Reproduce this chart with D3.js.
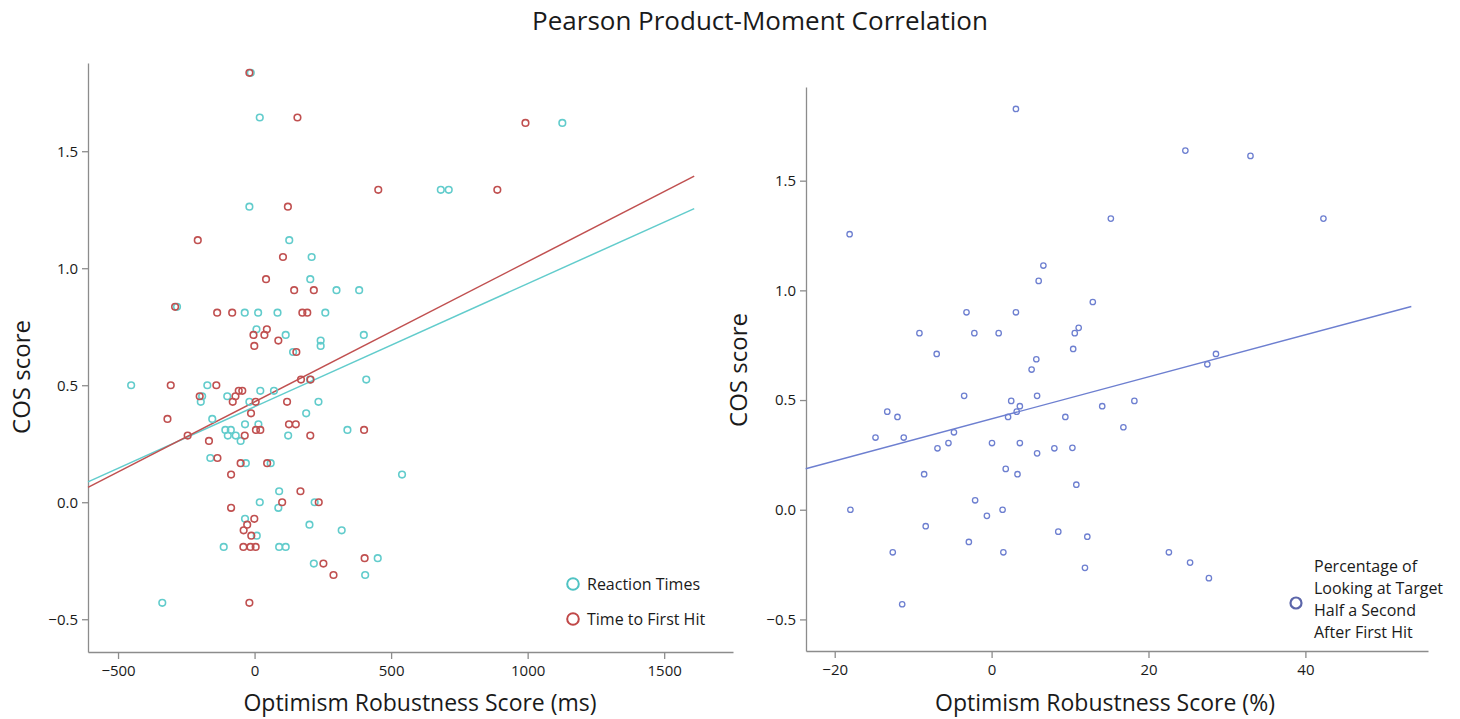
<!DOCTYPE html>
<html lang="en">
<head>
<meta charset="utf-8">
<title>Pearson Product-Moment Correlation</title>
<script src="https://d3js.org/d3.v7.min.js"></script>
<style type="text/css">
  body { margin: 0; background: #ffffff; }
  svg text { font-family: "Open Sans", "Noto Sans", sans-serif; fill: #1a1a1a; }
  .axis path, .axis line { stroke: #8c8c8c; stroke-width: 1.3px; }
  .axis text { font-size: 15px; }
</style>
</head>
<body>
<script type="text/javascript">

// left panel: optimism robustness score (ms) vs COS score
const rtX = [-14, 19, -19, 127, 209, 204, 300, 383, -284, -36, 13, 84, 259, 7, 114, 400, 242, 242, 141,
  -452, -173, 203, 409, -192, -100, 21, 71, -197, -19, 234, 189, -155, -35, 14, -107, -87, 340, -98, -69,
  123, -51, -162, -32, 59, 540, 90, 19, 220, 87, -35, 201, 319, 8, -113, 90, 114, 217, 451, 405, -338,
  1127, 682, 711];
const rtY = [1.835, 1.644, 1.263, 1.12, 1.048, 0.953, 0.906, 0.906, 0.835, 0.81, 0.81, 0.81, 0.81, 0.739,
  0.715, 0.715, 0.691, 0.668, 0.642, 0.5, 0.5, 0.524, 0.524, 0.453, 0.453, 0.476, 0.476, 0.429, 0.429,
  0.429, 0.38, 0.356, 0.333, 0.333, 0.309, 0.309, 0.309, 0.285, 0.285, 0.285, 0.262, 0.189, 0.167, 0.167,
  0.118, 0.047, 0.0, 0.0, -0.024, -0.071, -0.096, -0.12, -0.143, -0.191, -0.191, -0.191, -0.262, -0.239,
  -0.311, -0.43, 1.621, 1.335, 1.335];

const hitX = [-19, 157, 453, 122, -208, 104, 42, 145, 217, -291, -137, -82, 175, 193, 45, -4, 36, -1, 87,
  153, -307, -140, 170, 205, -201, -70, -58, -45, -80, 4, 119, -13, -319, 126, 151, 5, 21, 401, -245, -36,
  204, -167, -136, -51, 46, -86, 168, 101, 235, -86, -1, -27, -40, -12, -41, -15, 4, 252, 403, 289, -19,
  992, 889];
const hitY = [1.835, 1.644, 1.335, 1.263, 1.12, 1.048, 0.953, 0.906, 0.906, 0.835, 0.81, 0.81, 0.81, 0.81,
  0.739, 0.715, 0.715, 0.668, 0.691, 0.642, 0.5, 0.5, 0.524, 0.524, 0.453, 0.453, 0.476, 0.476, 0.429,
  0.429, 0.429, 0.38, 0.356, 0.333, 0.333, 0.309, 0.309, 0.309, 0.285, 0.285, 0.285, 0.262, 0.189, 0.167,
  0.167, 0.118, 0.047, 0.0, 0.0, -0.024, -0.071, -0.096, -0.12, -0.143, -0.191, -0.191, -0.191, -0.262,
  -0.239, -0.311, -0.43, 1.621, 1.335];

// right panel: optimism robustness score (%) vs COS score
const pctX = [3.1, -18.1, 6.6, 6.0, -3.2, 3.1, -9.2, -2.2, 0.9, -7.0, 5.7, 5.1, -3.5, 5.8, 2.5, 3.6, 3.2,
  2.1, -13.3, -12.0, -14.8, -11.2, -4.8, -5.5, 0.05, 3.6, -6.9, 8.0, 5.8, 1.8, -8.6, 3.3, -2.1, -18.0, 1.4,
  -0.6, -8.4, 8.5, -2.9, -12.6, 1.5, -11.4, 24.7, 33.0, 15.2, 42.3, 12.9, 11.1, 10.6, 10.4, 28.6, 27.5,
  14.1, 18.2, 9.4, 16.8, 10.3, 10.8, 12.2, 11.9, 22.6, 25.3, 27.7];
const pctY = [1.827, 1.256, 1.113, 1.043, 0.9, 0.9, 0.805, 0.805, 0.805, 0.71, 0.686, 0.639, 0.519, 0.519,
  0.496, 0.472, 0.447, 0.423, 0.447, 0.423, 0.329, 0.329, 0.353, 0.304, 0.304, 0.304, 0.28, 0.28, 0.257,
  0.186, 0.162, 0.162, 0.043, 0.0, 0.0, -0.028, -0.075, -0.1, -0.147, -0.194, -0.194, -0.431, 1.637, 1.613,
  1.327, 1.327, 0.947, 0.829, 0.805, 0.733, 0.71, 0.663, 0.472, 0.496, 0.423, 0.376, 0.282, 0.114, -0.123,
  -0.265, -0.194, -0.241, -0.312];

// fit lines: [intercept, slope], drawn over fitRange
const rtFit = [0.408, 0.000526];
const hitFit = [0.429, 0.000599];
const msFitRange = [-610, 1610];
const pctFit = [0.414, 0.00958];
const pctFitRange = [-23.7, 53.5];

// tick labels
const msTicks = [-500, 0, 500, 1000, 1500];
const pctTicks = [-20, 0, 20, 40];
const cosTicks = [-0.5, 0.0, 0.5, 1.0, 1.5];

const legendLeft = ["Reaction Times", "Time to First Hit"];
const legendRight = ["Percentage of", "Looking at Target", "Half a Second", "After First Hit"];

const cyan = "#62cccc";
const red = "#c05050";
const blue = "#6d7fd0";

const width = 1460;
const height = 719;
const svg = d3.select("body")
              .append("svg")
              .attr("width", width)
              .attr("height", height);

svg.append("text")
   .attr("x", 760)
   .attr("y", 30)
   .attr("text-anchor", "middle")
   .style("font-size", "26px")
   .text("Pearson Product-Moment Correlation");

// ---------- left panel ----------
const xL = d3.scaleLinear().domain([-610, 1752]).range([88, 733]);
const yL = d3.scaleLinear().domain([-0.64, 1.877]).range([652, 63]);

svg.append("g")
   .attr("class", "axis")
   .attr("transform", "translate(0,652)")
   .call(d3.axisBottom(xL).tickValues(msTicks).tickFormat(d3.format("d")).tickSize(7).tickPadding(6).tickSizeOuter(0));

svg.append("g")
   .attr("class", "axis")
   .attr("transform", "translate(88,0)")
   .call(d3.axisLeft(yL).tickValues(cosTicks).tickFormat(d3.format(".1f")).tickSize(6).tickPadding(4).tickSizeOuter(0));

const lineL = d3.line().x(d => xL(d[0])).y(d => yL(d[1]));

svg.append("path")
   .datum(msFitRange.map(v => [v, rtFit[0] + rtFit[1] * v]))
   .attr("d", lineL)
   .attr("fill", "none")
   .attr("stroke", cyan)
   .attr("stroke-width", 1.5);

svg.append("path")
   .datum(msFitRange.map(v => [v, hitFit[0] + hitFit[1] * v]))
   .attr("d", lineL)
   .attr("fill", "none")
   .attr("stroke", red)
   .attr("stroke-width", 1.5);

svg.append("g")
   .selectAll("circle")
   .data(d3.zip(rtX, rtY))
   .join("circle")
   .attr("cx", d => xL(d[0]))
   .attr("cy", d => yL(d[1]))
   .attr("r", 3.3)
   .attr("fill", "none")
   .attr("stroke", cyan)
   .attr("stroke-width", 1.6);

svg.append("g")
   .selectAll("circle")
   .data(d3.zip(hitX, hitY))
   .join("circle")
   .attr("cx", d => xL(d[0]))
   .attr("cy", d => yL(d[1]))
   .attr("r", 3.3)
   .attr("fill", "none")
   .attr("stroke", red)
   .attr("stroke-width", 1.6);

// legend left
const legL = svg.append("g").attr("transform", "translate(573,584)");
legL.selectAll("circle")
    .data(legendLeft)
    .join("circle")
    .attr("cx", 0)
    .attr("cy", (d, i) => i * 35)
    .attr("r", 5.8)
    .attr("fill", "none")
    .attr("stroke", (d, i) => i === 0 ? "#4fc3c3" : "#c04848")
    .attr("stroke-width", 2);
legL.selectAll("text")
    .data(legendLeft)
    .join("text")
    .attr("x", 14)
    .attr("y", (d, i) => i * 35 + 6)
    .style("font-size", "16px")
    .text(d => d);

svg.append("text")
   .attr("transform", "translate(30,377) rotate(-90)")
   .attr("text-anchor", "middle")
   .style("font-size", "24px")
   .text("COS score");

svg.append("text")
   .attr("x", 420)
   .attr("y", 711)
   .attr("text-anchor", "middle")
   .style("font-size", "23px")
   .text("Optimism Robustness Score (ms)");

// ---------- right panel ----------
const xR = d3.scaleLinear().domain([-23.66, 55.63]).range([806, 1428]);
const yR = d3.scaleLinear().domain([-0.644, 1.927]).range([651, 87]);

svg.append("g")
   .attr("class", "axis")
   .attr("transform", "translate(0,651)")
   .call(d3.axisBottom(xR).tickValues(pctTicks).tickSize(7).tickPadding(6).tickSizeOuter(0));

svg.append("g")
   .attr("class", "axis")
   .attr("transform", "translate(806,0)")
   .call(d3.axisLeft(yR).tickValues(cosTicks).tickFormat(d3.format(".1f")).tickSize(6).tickPadding(4).tickSizeOuter(0));

const lineR = d3.line().x(d => xR(d[0])).y(d => yR(d[1]));

svg.append("path")
   .datum(pctFitRange.map(v => [v, pctFit[0] + pctFit[1] * v]))
   .attr("d", lineR)
   .attr("fill", "none")
   .attr("stroke", blue)
   .attr("stroke-width", 1.4);

svg.append("g")
   .selectAll("circle")
   .data(d3.zip(pctX, pctY))
   .join("circle")
   .attr("cx", d => xR(d[0]))
   .attr("cy", d => yR(d[1]))
   .attr("r", 2.7)
   .attr("fill", "none")
   .attr("stroke", blue)
   .attr("stroke-width", 1.3);

// legend right
svg.append("circle")
   .attr("cx", 1296)
   .attr("cy", 603)
   .attr("r", 5.5)
   .attr("fill", "none")
   .attr("stroke", "#5c66aa")
   .attr("stroke-width", 2.2);

svg.append("g")
   .selectAll("text")
   .data(legendRight)
   .join("text")
   .attr("x", 1314)
   .attr("y", (d, i) => 572 + i * 22)
   .style("font-size", "16px")
   .text(d => d);

svg.append("text")
   .attr("transform", "translate(747,370) rotate(-90)")
   .attr("text-anchor", "middle")
   .style("font-size", "24px")
   .text("COS score");

svg.append("text")
   .attr("x", 1105)
   .attr("y", 711)
   .attr("text-anchor", "middle")
   .style("font-size", "23px")
   .text("Optimism Robustness Score (%)");

</script>
</body>
</html>
